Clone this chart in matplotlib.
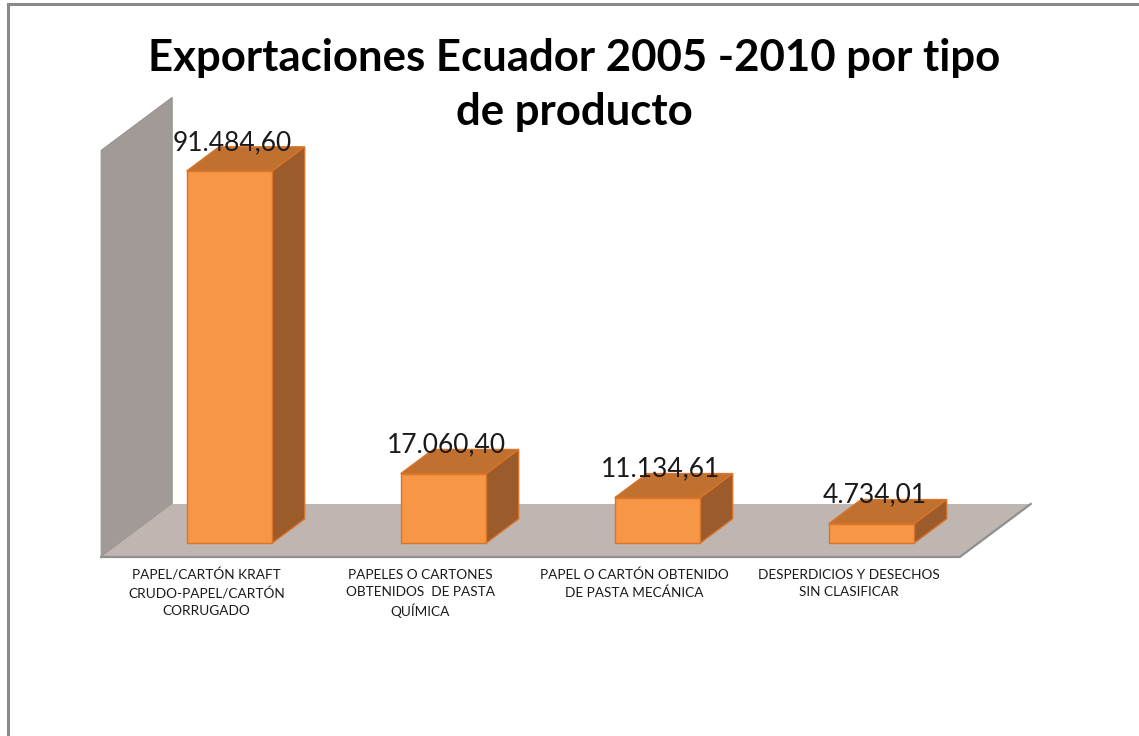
import matplotlib
matplotlib.use("Agg")
import matplotlib.pyplot as plt
from matplotlib.patches import Polygon
import numpy as np

# ---- data ----
categories = [
    "PAPEL/CARTÓN KRAFT\nCRUDO-PAPEL/CARTÓN\nCORRUGADO",
    "PAPELES O CARTONES\nOBTENIDOS  DE PASTA\nQUÍMICA",
    "PAPEL O CARTÓN OBTENIDO\nDE PASTA MECÁNICA",
    "DESPERDICIOS Y DESECHOS\nSIN CLASIFICAR",
]
values = [91484.60, 17060.40, 11134.61, 4734.01]
value_labels = ["91.484,60", "17.060,40", "11.134,61", "4.734,01"]
title = "Exportaciones Ecuador 2005 -2010 por tipo\nde producto"
axis_max = 100000

# ---- styling / geometry ----
W, H = 1139, 736
PX_CAT = 214.0                 # pixels per category step
PX_VAL = 372.0 / 91484.6       # pixels per value unit
DX = 71.0 / PX_CAT             # depth offset in category units (full depth)
DY = 53.0 / PX_VAL             # depth offset in value units (full depth)
D_FRONT, D_BACK = 0.264, 0.72  # bar depth span
BAR_W = 0.40
FLOOR_L, FLOOR_R = -0.512, 3.50

FRONT = "#F79646"
TOP = "#C0712F"
SIDE = "#9C5B2B"
EDGE = "#D9742A"
WALL = "#A29A97"
FLOOR = "#BFB5B1"

fig = plt.figure(figsize=(W / 100, H / 100), dpi=100)
ax = fig.add_axes([0, 0, 1, 1])
x0px, y0px = 229.5, 543.0
ax.set_xlim(-x0px / PX_CAT, (W - x0px) / PX_CAT)
ax.set_ylim(-(H - y0px) / PX_VAL, y0px / PX_VAL)
ax.axis("off")


def P(x, v, d):
    """oblique projection: category x, value v, depth d -> data coords"""
    return (x + (d - D_FRONT) * DX, v + (d - D_FRONT) * DY)


# side wall
wall = Polygon([P(FLOOR_L, 0, 0), P(FLOOR_L, 0, 1), P(FLOOR_L, axis_max, 1),
                P(FLOOR_L, axis_max, 0)], closed=True, facecolor=WALL,
               edgecolor="#9a9290", lw=0.8, zorder=1)
ax.add_patch(wall)

# floor
floor = Polygon([P(FLOOR_L, 0, 0), P(FLOOR_L, 0, 1), P(FLOOR_R, 0, 1),
                 P(FLOOR_R, 0, 0)], closed=True, facecolor=FLOOR,
                edgecolor="none", zorder=2)
ax.add_patch(floor)
fx = [P(FLOOR_L, 0, 0)[0], P(FLOOR_R, 0, 0)[0], P(FLOOR_R, 0, 1)[0]]
fy = [P(FLOOR_L, 0, 0)[1], P(FLOOR_R, 0, 0)[1], P(FLOOR_R, 0, 1)[1]]
ax.plot(fx, fy, color="#8f8f8f", lw=1.6, zorder=2.5, solid_joinstyle="miter")

xs = np.arange(len(values))
# front faces through ax.bar
ax.bar(xs, values, width=BAR_W, bottom=0, color=FRONT, edgecolor=EDGE,
       linewidth=1.0, zorder=5)

for x, v, lab in zip(xs, values, value_labels):
    l, r = x - BAR_W / 2, x + BAR_W / 2
    top = Polygon([P(l, v, D_FRONT), P(r, v, D_FRONT), P(r, v, D_BACK),
                   P(l, v, D_BACK)], closed=True, facecolor=TOP,
                  edgecolor=EDGE, lw=1.0, zorder=4)
    side = Polygon([P(r, 0, D_FRONT), P(r, v, D_FRONT), P(r, v, D_BACK),
                    P(r, 0, D_BACK)], closed=True, facecolor=SIDE,
                   edgecolor=EDGE, lw=1.0, zorder=4)
    ax.add_patch(top)
    ax.add_patch(side)
    ly = P(x, v, D_BACK)[1]
    ax.text(x + 3 / PX_CAT, ly - 3 / PX_VAL, lab, ha="center", va="baseline",
            fontsize=19, family="Lato", color="#1a1a1a", zorder=6)

for x, c in zip(xs, categories):
    cx, cy = P(x, 0, 0)
    ax.text(cx - 0.02, cy - 12 / PX_VAL, c, ha="center", va="top",
            fontsize=9.8, family="Lato", color="#1a1a1a",
            linespacing=1.48, zorder=6)

tlines = title.split("\n")
for line, yc in zip(tlines, [58, 112]):
    fig.text(574 / W, 1 - yc / H, line, ha="center", va="center",
             fontsize=31.5, fontweight="bold", family="Lato", color="black")

# outer frame (top and left visible)
fig.add_artist(plt.Line2D([8 / W, 8 / W], [0, 1 - 4 / H],
                          transform=fig.transFigure, color="#8a8a8a", lw=2.2))
fig.add_artist(plt.Line2D([8 / W, 1], [1 - 4 / H, 1 - 4 / H],
                          transform=fig.transFigure, color="#8a8a8a", lw=2.2))

fig.savefig("out.png", dpi=100, facecolor="white")
